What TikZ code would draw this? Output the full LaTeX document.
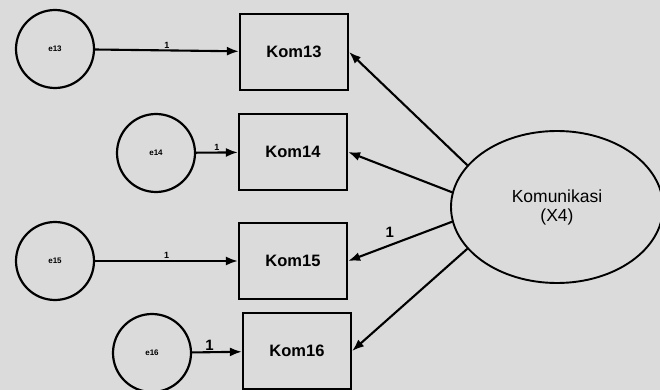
\documentclass[tikz,border=0pt]{standalone}
\usepackage{fontspec}
\setmainfont{Liberation Sans}
\usetikzlibrary{shapes.geometric,arrows.meta}
\begin{document}
\begin{tikzpicture}[x=1pt,y=-1pt,
  err/.style={circle,draw,line width=2.2pt,minimum size=78pt,inner sep=0pt,font=\fontsize{8}{9}\selectfont\bfseries},
  obs/.style={rectangle,draw,line width=2.2pt,minimum width=108pt,minimum height=76pt,inner sep=0pt,font=\fontsize{16.5}{18}\selectfont\bfseries},
  lat/.style={ellipse,draw,line width=1.9pt,minimum width=212pt,minimum height=152pt,inner sep=0pt,align=center,font=\fontsize{17.5}{19}\selectfont},
  arr/.style={line width=2.1pt,-{Latex[length=12pt,width=9pt]}},
  one/.style={font=\fontsize{9}{10}\selectfont\bfseries,inner sep=1pt},
  bigone/.style={font=\fontsize{15}{17}\selectfont\bfseries,inner sep=1pt}]
\fill[black!14] (0,0) rectangle (660,390);
\useasboundingbox (0,0) rectangle (660,390);
\node[err] (e13) at (55,49) {e13};
\node[err] (e14) at (156,153) {e14};
\node[err] (e15) at (55,261) {e15};
\node[err] (e16) at (152,353) {e16};
\node[obs] (k13) at (294,52) {Kom13};
\node[obs] (k14) at (293,152) {Kom14};
\node[obs] (k15) at (293,261) {Kom15};
\node[obs] (k16) at (297,351) {Kom16};
\node[lat] (X4) at (557,207) {Komunikasi\\(X4)};
\draw[arr] (e13) -- node[one,above]{1} (k13);
\draw[arr] (e14) -- node[one,above]{1} (k14);
\draw[arr] (e15) -- node[one,above]{1} (k15);
\draw[arr] (e16) -- node[bigone,above,pos=0.35]{1} (k16);
\draw[arr] (X4.155) -- (k13.east);
\draw[arr] (X4.172) -- (k14.east);
\draw[arr] (X4.188) -- node[bigone,above,pos=0.6,yshift=6pt]{1} (k15.east);
\draw[arr] (X4.205) -- (k16.east);
\end{tikzpicture}
\end{document}
